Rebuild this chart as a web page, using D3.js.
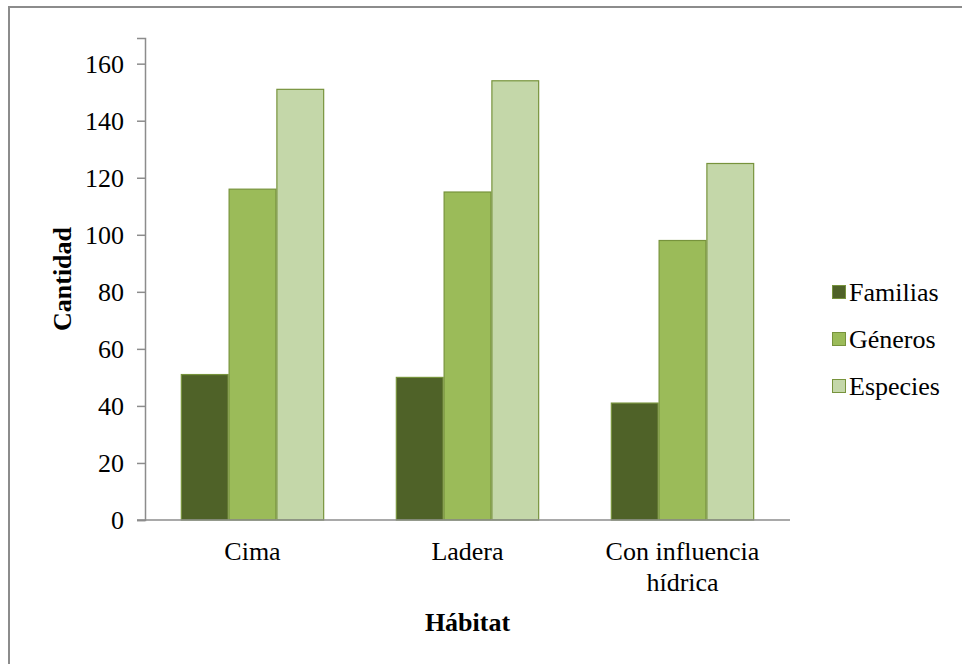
<!DOCTYPE html>
<html>
<head>
<meta charset="utf-8">
<script src="https://cdn.jsdelivr.net/npm/d3@7"></script>
<style>
  body { margin: 0; background: #fff; }
  svg { display: block; }
  svg text { font-family: "Liberation Serif", "Times New Roman", serif; fill: #000; }
</style>
</head>
<body>
<svg class="svg-canvas"></svg>
<script>
const categories = ["Cima", "Ladera", "Con influencia hídrica"];
const categoryLines = [["Cima"], ["Ladera"], ["Con influencia", "hídrica"]];
const series = ["Familias", "Géneros", "Especies"];
const familias = [51, 50, 41];
const generos = [116, 115, 98];
const especies = [151, 154, 125];
const yTicks = [0, 20, 40, 60, 80, 100, 120, 140, 160];

const colors = { Familias: "#4f6228", "Géneros": "#9bbb59", Especies: "#c4d7a9" };
const values = { Familias: familias, "Géneros": generos, Especies: especies };

const width = 962, height = 664;
const margin = { top: 38, right: 172, bottom: 144, left: 145 };
const fontSize = 26;

const svg = d3.select(".svg-canvas")
    .attr("width", width)
    .attr("height", height)
    .attr("viewBox", [0, 0, width, height]);

// outer chart frame (runs past the window on right/bottom)
svg.append("rect")
    .attr("x", 9).attr("y", 7)
    .attr("width", width + 20).attr("height", height + 20)
    .attr("fill", "none")
    .attr("stroke", "#8c8c8c")
    .attr("stroke-width", 2);

const xScale = d3.scaleBand()
    .domain(categories)
    .range([margin.left, width - margin.right]);

const xInner = d3.scaleBand()
    .domain(series)
    .range([0, xScale.bandwidth()])
    .paddingInner(0)
    .paddingOuter(0.75);

const yScale = d3.scaleLinear()
    .domain([0, 169])
    .range([height - margin.bottom, margin.top]);

// bars
const groups = svg.append("g")
    .selectAll("g")
    .data(categories)
    .join("g")
    .attr("transform", d => `translate(${xScale(d)},0)`);

groups.selectAll("rect")
    .data((d, i) => series.map(s => ({ s, v: values[s][i] })))
    .join("rect")
    .attr("x", d => xInner(d.s) + 0.5)
    .attr("width", xInner.bandwidth() - 1)
    .attr("y", d => yScale(d.v))
    .attr("height", d => yScale(0) - yScale(d.v))
    .attr("fill", d => colors[d.s])
    .attr("stroke", "#77933c")
    .attr("stroke-width", 1.2);

// y axis
const yAxis = svg.append("g")
    .attr("transform", `translate(${margin.left},0)`)
    .call(d3.axisLeft(yScale).tickValues(yTicks).tickSizeOuter(0).tickSize(8).tickPadding(13));
yAxis.attr("font-family", null).attr("font-size", null);
yAxis.select(".domain").attr("stroke", "#8c8c8c").attr("stroke-width", 1.5);
yAxis.selectAll(".tick line").attr("stroke", "#8c8c8c").attr("stroke-width", 1.5);
yAxis.selectAll(".tick text")
    .attr("font-size", fontSize)
    .attr("dy", "0.34em");

// x axis line
svg.append("line")
    .attr("x1", margin.left - 8).attr("x2", width - margin.right)
    .attr("y1", yScale(0)).attr("y2", yScale(0))
    .attr("stroke", "#8c8c8c")
    .attr("stroke-width", 1.5);

// category labels
svg.append("g")
    .selectAll("text")
    .data(categories)
    .join("text")
    .attr("x", d => xScale(d) + xScale.bandwidth() / 2)
    .attr("y", yScale(0) + 40)
    .attr("text-anchor", "middle")
    .attr("font-size", fontSize)
    .selectAll("tspan")
    .data((d, i) => categoryLines[i])
    .join("tspan")
    .attr("x", function () { return d3.select(this.parentNode).attr("x"); })
    .attr("dy", (d, i) => i === 0 ? 0 : 31)
    .text(d => d);

// axis titles
svg.append("text")
    .attr("x", (margin.left + width - margin.right) / 2)
    .attr("y", 631)
    .attr("text-anchor", "middle")
    .attr("font-size", fontSize)
    .attr("font-weight", "bold")
    .text("Hábitat");

svg.append("text")
    .attr("transform", `translate(71,${(yScale(0) + margin.top) / 2}) rotate(-90)`)
    .attr("text-anchor", "middle")
    .attr("font-size", fontSize)
    .attr("font-weight", "bold")
    .text("Cantidad");

// legend
const legend = svg.append("g")
    .selectAll("g")
    .data(series)
    .join("g")
    .attr("transform", (d, i) => `translate(832,${292 + i * 47})`);

legend.append("rect")
    .attr("x", 0.5).attr("y", -6.5)
    .attr("width", 13).attr("height", 13)
    .attr("fill", d => colors[d])
    .attr("stroke", "#77933c")
    .attr("stroke-width", 1);

legend.append("text")
    .attr("x", 17)
    .attr("y", 9)
    .attr("font-size", fontSize)
    .text(d => d);
</script>
</body>
</html>
